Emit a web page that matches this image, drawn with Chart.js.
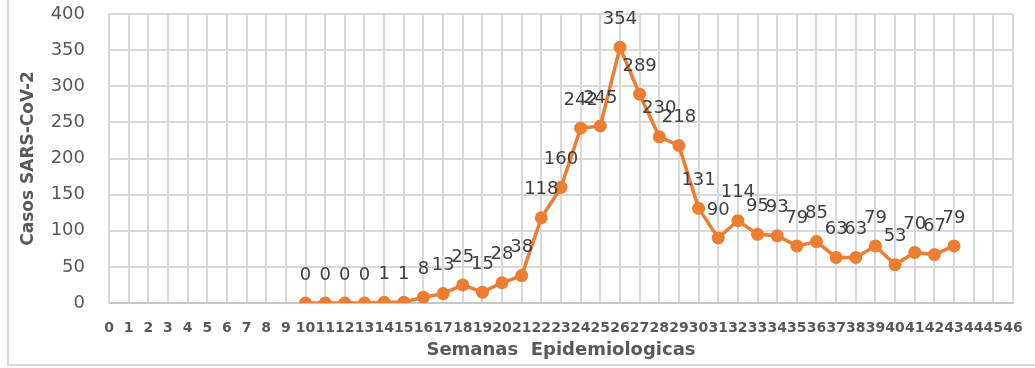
<!DOCTYPE html>
<html>
<head>
<meta charset="utf-8">
<title>Casos SARS-CoV-2 por semana epidemiológica</title>
<script src="https://cdn.jsdelivr.net/npm/chart.js@4.4.1/dist/chart.umd.min.js"></script>
<style>
  html, body { margin: 0; padding: 0; background: #ffffff; }
  #wrap { width: 1035px; height: 368px; position: relative; }
</style>
</head>
<body>
<div id="wrap"><canvas id="chart" width="1035" height="368"></canvas></div>
<script>
// Epidemiological weeks shown on the x axis
const weeks = ['0','1','2','3','4','5','6','7','8','9','10','11','12','13','14','15','16','17','18','19','20','21','22','23','24','25','26','27','28','29','30','31','32','33','34','35','36','37','38','39','40','41','42','43','44','45','46'];

// Weeks that have reported cases, and the case counts for them
const reportedWeeks = ['10','11','12','13','14','15','16','17','18','19','20','21','22','23','24','25','26','27','28','29','30','31','32','33','34','35','36','37','38','39','40','41','42','43'];
const cases = [0, 0, 0, 0, 1, 1, 8, 13, 25, 15, 28, 38, 118, 160, 242, 245, 354, 289, 230, 218, 131, 90, 114, 95, 93, 79, 85, 63, 63, 79, 53, 70, 67, 79];

// Y axis range and tick spacing
const yMin = 0;
const yMax = 400;
const yStep = 50;

const seriesData = weeks.map(w => {
  const i = reportedWeeks.indexOf(w);
  return i >= 0 ? cases[i] : null;
});

const FONT = "'DejaVu Sans', sans-serif";
const ORANGE = '#ED7D31';
const GRID = '#D9D9D9';
const TEXT = '#595959';

// Light frame around the chart plus a white background
const framePlugin = {
  id: 'frame',
  beforeDraw(chart) {
    const ctx = chart.ctx;
    ctx.save();
    ctx.fillStyle = '#ffffff';
    ctx.fillRect(0, 0, chart.width, chart.height);
    ctx.strokeStyle = '#D9D9D9';
    ctx.lineWidth = 2;
    ctx.strokeRect(8, -10, chart.width + 20, 375);
    ctx.restore();
  }
};

// Value labels above every point
const valueLabels = {
  id: 'valueLabels',
  afterDatasetsDraw(chart) {
    const ctx = chart.ctx;
    const meta = chart.getDatasetMeta(0);
    const data = chart.data.datasets[0].data;
    ctx.save();
    ctx.font = '18px ' + FONT;
    ctx.fillStyle = '#404040';
    ctx.textAlign = 'center';
    ctx.textBaseline = 'middle';
    meta.data.forEach((pt, i) => {
      const v = data[i];
      if (v === null || v === undefined) return;
      ctx.fillText(String(v), pt.x, pt.y - 28);
    });
    ctx.restore();
  }
};

new Chart(document.getElementById('chart'), {
  type: 'line',
  data: {
    labels: weeks,
    datasets: [{
      data: seriesData,
      borderColor: ORANGE,
      backgroundColor: ORANGE,
      borderWidth: 3.5,
      pointRadius: 6.5,
      pointBorderWidth: 0,
      pointBackgroundColor: ORANGE,
      tension: 0,
      spanGaps: false
    }]
  },
  options: {
    responsive: false,
    animation: false,
    events: [],
    layout: { autoPadding: false, padding: { left: 8, right: 22, top: 14, bottom: 5 } },
    plugins: {
      legend: { display: false },
      tooltip: { enabled: false }
    },
    scales: {
      x: {
        offset: false,
        afterFit(scale) {
          scale.height = 60;
          scale.paddingLeft = 0;
          scale.paddingRight = 0;
        },
        grid: { color: GRID, lineWidth: 2, drawTicks: false },
        border: { color: '#C8C8C8', width: 2 },
        ticks: {
          autoSkip: false,
          maxRotation: 0,
          minRotation: 0,
          padding: 17,
          color: TEXT,
          font: { family: FONT, size: 14, weight: 'bold' }
        },
        title: {
          display: true,
          text: 'Semanas  Epidemiologicas',
          color: TEXT,
          font: { family: FONT, size: 18, weight: 'bold' },
          padding: { top: 0, bottom: 2 }
        }
      },
      y: {
        min: yMin,
        max: yMax,
        afterFit(scale) {
          scale.width = 101;
          scale.paddingTop = 0;
          scale.paddingBottom = 0;
        },
        grid: { color: GRID, lineWidth: 2, drawTicks: false },
        border: { color: GRID, width: 2 },
        ticks: {
          stepSize: yStep,
          padding: 24,
          color: TEXT,
          font: { family: FONT, size: 18 }
        },
        title: {
          display: true,
          text: 'Casos SARS-CoV-2',
          color: TEXT,
          font: { family: FONT, size: 17, weight: 'bold' },
          padding: { top: 10, bottom: 0 }
        }
      }
    }
  },
  plugins: [framePlugin, valueLabels]
});
</script>
</body>
</html>
